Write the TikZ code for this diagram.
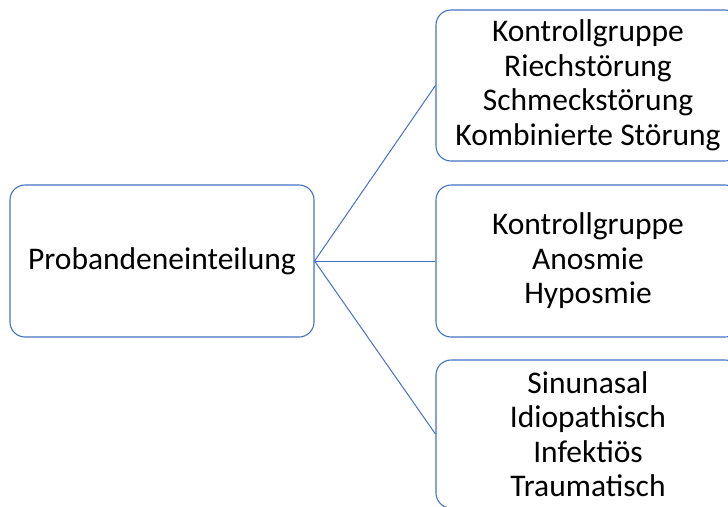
\documentclass[tikz,border=0pt]{standalone}
\usepackage{fontspec}
\setmainfont{Carlito}
\definecolor{officeblue}{HTML}{4472C4}
\tikzset{
  box/.style={draw=officeblue, line width=1.1pt, rounded corners=15pt, rectangle,
    minimum width=304pt, inner sep=0pt, align=center, fill=white,
    font=\fontsize{31.5}{34.5}\selectfont},
  link/.style={draw=officeblue, line width=1pt}
}
\begin{document}
\begin{tikzpicture}[x=1pt,y=1pt]
\useasboundingbox (0,0) rectangle (728,-506);
\clip (0,0) rectangle (728,-506);
\fill[white] (0,0) rectangle (728,-506);
\node[box, minimum height=152pt] (root) at (162,-261) {Probandeneinteilung};
\node[box, minimum height=151pt] (top) at (588,-85.5) {Kontrollgruppe\\Riechstörung\\Schmeckstörung\\Kombinierte Störung};
\node[box, minimum height=152pt] (mid) at (588,-261) {Kontrollgruppe\\Anosmie\\Hyposmie};
\node[box, minimum height=148pt] (bot) at (588,-434) {Sinunasal\\Idiopathisch\\Infektiös\\Traumatisch};
\draw[link] (root.east) -- (top.west);
\draw[link] (root.east) -- (mid.west);
\draw[link] (root.east) -- (bot.west);
\end{tikzpicture}
\end{document}
